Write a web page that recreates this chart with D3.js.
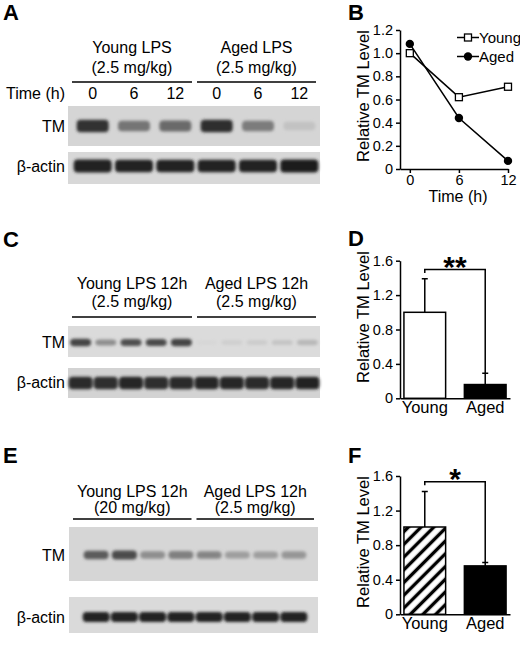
<!DOCTYPE html>
<html>
<head>
<meta charset="utf-8">
<script src="https://cdn.jsdelivr.net/npm/d3@7"></script>
<style>
  body { margin: 0; background: #fff; }
  text { font-family: "Liberation Sans", Arial, Helvetica, sans-serif; }
</style>
</head>
<body>
<svg id="fig" width="520" height="645"></svg>
<script>
// ---- panel B: TM level over time
const timeHours = [0, 6, 12];
const youngTime = [1.0, 0.62, 0.71];
const agedTime = [1.08, 0.44, 0.07];
const yTicksB = [0, 0.2, 0.4, 0.6, 0.8, 1.0, 1.2];
const yTickLabelsB = ['0', '0.2', '0.4', '0.6', '0.8', '1.0', '1.2'];

// ---- panels D and F: bar charts
const groups = ['Young', 'Aged'];
const meanD = [1.0, 0.16];
const errD = [0.39, 0.13];
const meanF = [1.01, 0.56];
const errF = [0.41, 0.04];
const yTicksDF = [0, 0.4, 0.8, 1.2, 1.6];
const yTickLabelsDF = ['0', '0.4', '0.8', '1.2', '1.6'];

// ---- blots: band darkness per lane (0 = nothing, 1 = black)
const timeLabelsA = ['0', '6', '12', '0', '6', '12'];
const tmA = [0.88, 0.52, 0.57, 0.9, 0.48, 0.1];
const actinA = [0.96, 0.95, 0.95, 0.95, 0.95, 0.98];
const tmC = [0.78, 0.4, 0.72, 0.74, 0.78, 0.02, 0.06, 0.08, 0.12, 0.18];
const actinC = [0.92, 0.9, 0.94, 0.9, 0.92, 0.93, 0.94, 0.92, 0.94, 0.95];
const tmE = [0.65, 0.74, 0.38, 0.46, 0.43, 0.3, 0.3, 0.34];
const actinE = [0.96, 0.96, 0.96, 0.96, 0.95, 0.95, 0.95, 0.97];

const headersA = [['Young LPS', '(2.5 mg/kg)'], ['Aged LPS', '(2.5 mg/kg)']];
const headersC = [['Young LPS 12h', '(2.5 mg/kg)'], ['Aged LPS 12h', '(2.5 mg/kg)']];
const headersE = [['Young LPS 12h', '(20 mg/kg)'], ['Aged LPS 12h', '(2.5 mg/kg)']];

const svg = d3.select('#fig');

const defs = svg.append('defs');
defs.append('filter')
    .attr('id', 'blur')
    .attr('x', '-30%').attr('y', '-80%')
    .attr('width', '160%').attr('height', '260%')
  .append('feGaussianBlur')
    .attr('stdDeviation', 1.4);

// diagonal hatching for the young bar in F
const hatch = defs.append('pattern')
    .attr('id', 'hatch')
    .attr('patternUnits', 'userSpaceOnUse')
    .attr('width', 9).attr('height', 9)
    .attr('patternTransform', 'rotate(45)');
hatch.append('rect').attr('width', 9).attr('height', 9).attr('fill', '#fff');
hatch.append('line')
    .attr('x1', 4.5).attr('y1', 0).attr('x2', 4.5).attr('y2', 9)
    .attr('stroke', '#000').attr('stroke-width', 3.4);

// small helper for text
const txt = (g, x, y, s, size, anchor, weight) => g.append('text')
    .attr('x', x).attr('y', y)
    .attr('font-size', size)
    .attr('text-anchor', anchor || 'start')
    .attr('font-weight', weight || 'normal')
    .attr('fill', '#000')
    .text(s);

// one strip of a blot (gray box with bands)
function strip(g, lane, values, s) {
  g.append('rect')
      .attr('x', s.x0).attr('y', s.y0)
      .attr('width', s.x1 - s.x0).attr('height', s.y1 - s.y0)
      .attr('fill', s.bg);
  const shade = d3.interpolateRgb(s.bg, '#1a1a1a');
  g.append('g').attr('filter', 'url(#blur)')
    .selectAll('rect')
    .data(values)
    .enter().append('rect')
      .attr('x', (d, i) => lane(i) + lane.bandwidth() / 2 - s.w / 2)
      .attr('width', s.w)
      .attr('y', d => s.cy - s.h * (0.6 + 0.4 * d) / 2)
      .attr('height', d => s.h * (0.6 + 0.4 * d))
      .attr('rx', 4)
      .attr('fill', d => shade(d));
}

// western blot panel (A, C, E)
function blotPanel(p) {
  const g = svg.append('g');
  txt(g, 3, p.letterY, p.letter, 22, 'start', 'bold');
  const lane = d3.scaleBand().domain(d3.range(p.tm.length)).range(p.laneRange);
  const mid = (p.x0 + p.x1) / 2;
  const spans = [[p.x0 + 4, mid - 2], [mid + 3, p.x1 - 4]];
  p.headers.forEach((h, i) => {
    const cx = (spans[i][0] + spans[i][1]) / 2;
    txt(g, cx, p.headY[0], h[0], 16, 'middle');
    txt(g, cx, p.headY[1], h[1], 16, 'middle');
    g.append('line')
        .attr('x1', spans[i][0]).attr('x2', spans[i][1])
        .attr('y1', p.lineY).attr('y2', p.lineY)
        .attr('stroke', '#000').attr('stroke-width', 1.5);
  });
  if (p.timeLabels) {
    txt(g, 6, p.timeY, 'Time (h)', 16);
    p.timeLabels.forEach((t, i) => txt(g, lane(i) + lane.bandwidth() / 2, p.timeY, t, 16, 'middle'));
  }
  strip(g, lane, p.tm, Object.assign({x0: p.x0, x1: p.x1}, p.tmBox));
  strip(g, lane, p.actin, Object.assign({x0: p.x0, x1: p.x1}, p.actinBox));
  txt(g, 65, p.tmBox.labelY, 'TM', 16, 'end');
  txt(g, 65, p.actinBox.labelY, '\u03b2-actin', 16, 'end');
}

blotPanel({
  letter: 'A', letterY: 20, headers: headersA, headY: [53, 73], lineY: 82,
  timeLabels: timeLabelsA, timeY: 99,
  x0: 68, x1: 320, laneRange: [72, 320], tm: tmA, actin: actinA,
  tmBox: {y0: 106, y1: 146, bg: '#d5d5d5', cy: 126, h: 13, w: 32, labelY: 132},
  actinBox: {y0: 152, y1: 184, bg: '#d8d8d8', cy: 166, h: 13, w: 38, labelY: 172}
});

blotPanel({
  letter: 'C', letterY: 247, headers: headersC, headY: [289, 307], lineY: 317,
  x0: 68, x1: 320, laneRange: [68, 320], tm: tmC, actin: actinC,
  tmBox: {y0: 326, y1: 357, bg: '#dbdbdb', cy: 342.5, h: 8, w: 21, labelY: 348},
  actinBox: {y0: 368, y1: 398, bg: '#d3d3d3', cy: 383, h: 13, w: 24, labelY: 388}
});

blotPanel({
  letter: 'E', letterY: 463, headers: headersE, headY: [497, 513], lineY: 519,
  x0: 69, x1: 318, laneRange: [82, 308], tm: tmE, actin: actinE,
  tmBox: {y0: 527, y1: 581, bg: '#d6d6d6', cy: 555, h: 10, w: 25, labelY: 561},
  actinBox: {y0: 597, y1: 633, bg: '#dadada', cy: 617, h: 10, w: 27, labelY: 623}
});

// axis styling shared by the plots
function styleAxis(a) {
  a.attr('font-family', null);
  a.selectAll('path, line').attr('stroke', '#000').attr('stroke-width', 1.5);
  a.selectAll('text').attr('fill', '#000');
}

// ---- panel B
const gB = svg.append('g');
txt(gB, 348, 20, 'B', 22, 'start', 'bold');
const xB = d3.scaleLinear().domain([-1.2, 12]).range([400, 508]);
const yB = d3.scaleLinear().domain([0, 1.2]).range([169, 30]);

gB.append('g')
    .attr('transform', 'translate(0,169)')
    .call(d3.axisBottom(xB).tickValues(timeHours).tickSize(4).tickSizeOuter(0).tickPadding(2))
    .attr('font-size', 14.5)
    .call(styleAxis);
gB.append('g')
    .attr('transform', 'translate(400,0)')
    .call(d3.axisLeft(yB).tickValues(yTicksB).tickSize(4).tickSizeOuter(0)
      .tickFormat((d, i) => yTickLabelsB[i]))
    .attr('font-size', 14.5)
    .call(styleAxis);

txt(gB, 458, 202, 'Time (h)', 16, 'middle');
txt(gB, 0, 0, 'Relative TM Level', 16.5, 'middle')
    .attr('transform', 'translate(369,96) rotate(-90)');

const lineB = d3.line().x((d, i) => xB(timeHours[i])).y(d => yB(d));
gB.append('path').datum(youngTime)
    .attr('d', lineB).attr('fill', 'none').attr('stroke', '#000').attr('stroke-width', 1.5);
gB.selectAll('.sq').data(youngTime).enter().append('rect')
    .attr('x', (d, i) => xB(timeHours[i]) - 3.5).attr('y', d => yB(d) - 3.5)
    .attr('width', 7).attr('height', 7)
    .attr('fill', '#fff').attr('stroke', '#000').attr('stroke-width', 1.3);
gB.append('path').datum(agedTime)
    .attr('d', lineB).attr('fill', 'none').attr('stroke', '#000').attr('stroke-width', 1.5);
gB.selectAll('.dot').data(agedTime).enter().append('circle')
    .attr('cx', (d, i) => xB(timeHours[i])).attr('cy', d => yB(d))
    .attr('r', 4.2).attr('fill', '#000');

// legend
gB.append('line').attr('x1', 457).attr('x2', 479).attr('y1', 37.5).attr('y2', 37.5)
    .attr('stroke', '#000').attr('stroke-width', 1.5);
gB.append('rect').attr('x', 464.5).attr('y', 34).attr('width', 7).attr('height', 7)
    .attr('fill', '#fff').attr('stroke', '#000').attr('stroke-width', 1.3);
txt(gB, 479, 42.5, 'Young', 15);
gB.append('line').attr('x1', 457).attr('x2', 479).attr('y1', 56.5).attr('y2', 56.5)
    .attr('stroke', '#000').attr('stroke-width', 1.5);
gB.append('circle').attr('cx', 468).attr('cy', 56.5).attr('r', 4.2).attr('fill', '#000');
txt(gB, 479, 61.5, 'Aged', 15);

// ---- panels D and F
function barPanel(p) {
  const g = svg.append('g');
  txt(g, 348, p.letterY, p.letter, 22, 'start', 'bold');
  const x = d3.scaleBand().domain(groups).range([400, 510]).paddingInner(0.31).paddingOuter(0.065);
  const y = d3.scaleLinear().domain([0, 1.6]).range([p.y0, p.y1]);

  // error bars (drawn first so bars sit on top)
  g.selectAll('.err').data(p.mean).enter().append('path')
      .attr('d', (d, i) => {
        const cx = x(groups[i]) + x.bandwidth() / 2;
        const top = y(d + p.err[i]);
        return `M${cx},${y(d)}V${top}M${cx - 3},${top}H${cx + 3}`;
      })
      .attr('fill', 'none').attr('stroke', '#000').attr('stroke-width', 1.5);

  g.selectAll('.bar').data(p.mean).enter().append('rect')
      .attr('x', (d, i) => x(groups[i]))
      .attr('width', x.bandwidth())
      .attr('y', d => y(d))
      .attr('height', d => p.y0 - y(d))
      .attr('fill', (d, i) => p.fills[i])
      .attr('stroke', '#000').attr('stroke-width', 1.5);

  g.append('g')
      .attr('transform', `translate(0,${p.y0})`)
      .call(d3.axisBottom(x).tickSize(0).tickSizeOuter(0).tickPadding(3))
      .attr('font-size', 16.5)
      .call(styleAxis);
  g.append('g')
      .attr('transform', 'translate(400,0)')
      .call(d3.axisLeft(y).tickValues(yTicksDF).tickSize(4).tickSizeOuter(0)
        .tickFormat((d, i) => yTickLabelsDF[i]))
      .attr('font-size', 14.5)
      .call(styleAxis);

  txt(g, 0, 0, 'Relative TM Level', 16.5, 'middle')
      .attr('transform', `translate(369,${p.labelCy}) rotate(-90)`);

  // significance bracket
  const c0 = x(groups[0]) + x.bandwidth() / 2;
  const c1 = x(groups[1]) + x.bandwidth() / 2;
  g.append('path')
      .attr('d', `M${c0},${p.bracketY + 3.5}V${p.bracketY}H${c1}V${y(p.mean[1] + p.err[1])}`)
      .attr('fill', 'none').attr('stroke', '#000').attr('stroke-width', 1.5);
  txt(g, (c0 + c1) / 2, p.bracketY + 7, p.star, 30, 'middle', 'bold');
}

barPanel({
  letter: 'D', letterY: 246, y0: 398.3, y1: 260.7, mean: meanD, err: errD,
  fills: ['#fff', '#000'], labelCy: 317, bracketY: 269.5, star: '**'
});
barPanel({
  letter: 'F', letterY: 463, y0: 614.3, y1: 476, mean: meanF, err: errF,
  fills: ['url(#hatch)', '#000'], labelCy: 542, bracketY: 481.7, star: '*'
});
</script>
</body>
</html>
